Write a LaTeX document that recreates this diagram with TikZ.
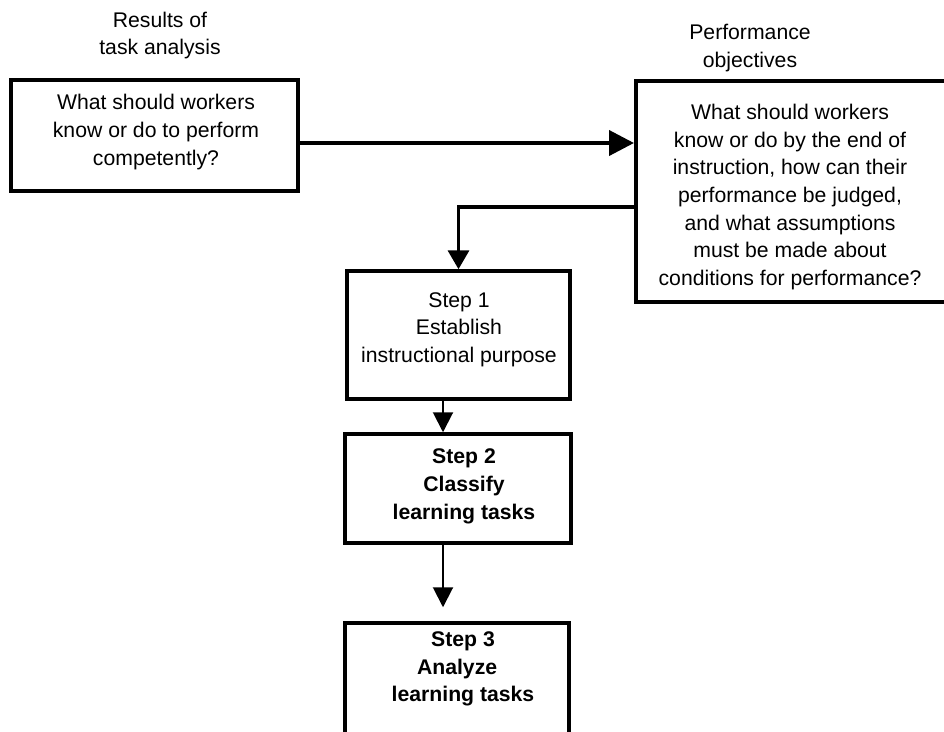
\documentclass[tikz,border=0pt]{standalone}
\usepackage{fontspec}
\setmainfont{Liberation Sans}
\usetikzlibrary{arrows.meta}
\begin{document}
\begin{tikzpicture}[x=1pt,y=-1pt,
  frame/.style={draw, line width=4pt, inner sep=0pt},
  stepframe/.style={draw, line width=3.5pt, inner sep=0pt},
  txt/.style={align=center, inner sep=0pt, yshift=-2pt, font=\fontsize{21.2}{27.7}\selectfont},
  boldtxt/.style={txt, font=\fontsize{21.2}{27.7}\selectfont\bfseries},
  heavyarrow/.style={line width=4pt, -{Triangle[length=25pt,width=25pt]}},
  bendarrow/.style={line width=3.5pt, -{Triangle[length=19pt,width=21pt]}},
  steparrow/.style={line width=2pt, -{Triangle[length=20pt,width=20pt]}}]
  \path[use as bounding box, clip] (0,0) rectangle (944,731);

  % headings above the two upper boxes
  \node[txt] (restitle) at (160,33.5) {Results of\\task analysis};
  \node[txt] (objtitle) at (750,46) {Performance\\objectives};

  % task analysis box
  \node[frame, minimum width=287pt, minimum height=111pt] (know) at (154.5,135.5) {};
  \node[txt] (knowtxt) at (156,130) {What should workers\\know or do to perform\\competently?};

  % performance objectives box (runs past the right edge)
  \node[frame, minimum width=324pt, minimum height=221pt] (obj) at (798,191.5) {};
  \node[txt] (objtxt) at (790,195) {What should workers\\know or do by the end of\\instruction, how can their\\performance be judged,\\and what assumptions\\must be made about\\conditions for performance?};

  % step boxes
  \node[stepframe, minimum width=223pt, minimum height=128pt] (s1) at (458.5,335) {};
  \node[txt] (s1txt) at (459,327.5) {Step 1\\Establish\\instructional purpose};

  \node[stepframe, minimum width=226pt, minimum height=109pt] (s2) at (458,488.5) {};
  \node[boldtxt] (s2txt) at (464,484.5) {Step 2\\Classify\\learning tasks};

  \node[stepframe, minimum width=224pt, minimum height=137pt] (s3) at (457,691.5) {};
  \node[boldtxt] (s3txt) at (463,667) {Step 3\\Analyze\hphantom{x}\\learning tasks};

  % connectors
  \draw[heavyarrow] ([yshift=-7.5pt]know.east) -- (obj.west |- {0,143});
  \draw[bendarrow] ([yshift=-15.5pt]obj.west) -| (s1.north);
  \draw[steparrow] ([xshift=-15.5pt]s1.south) -- ([xshift=-15.5pt]s1.south |- s2.north);
  \draw[steparrow, shorten >=14pt] ([xshift=-15pt]s2.south) -- ([xshift=-15pt]s2.south |- s3.north);
\end{tikzpicture}
\end{document}
